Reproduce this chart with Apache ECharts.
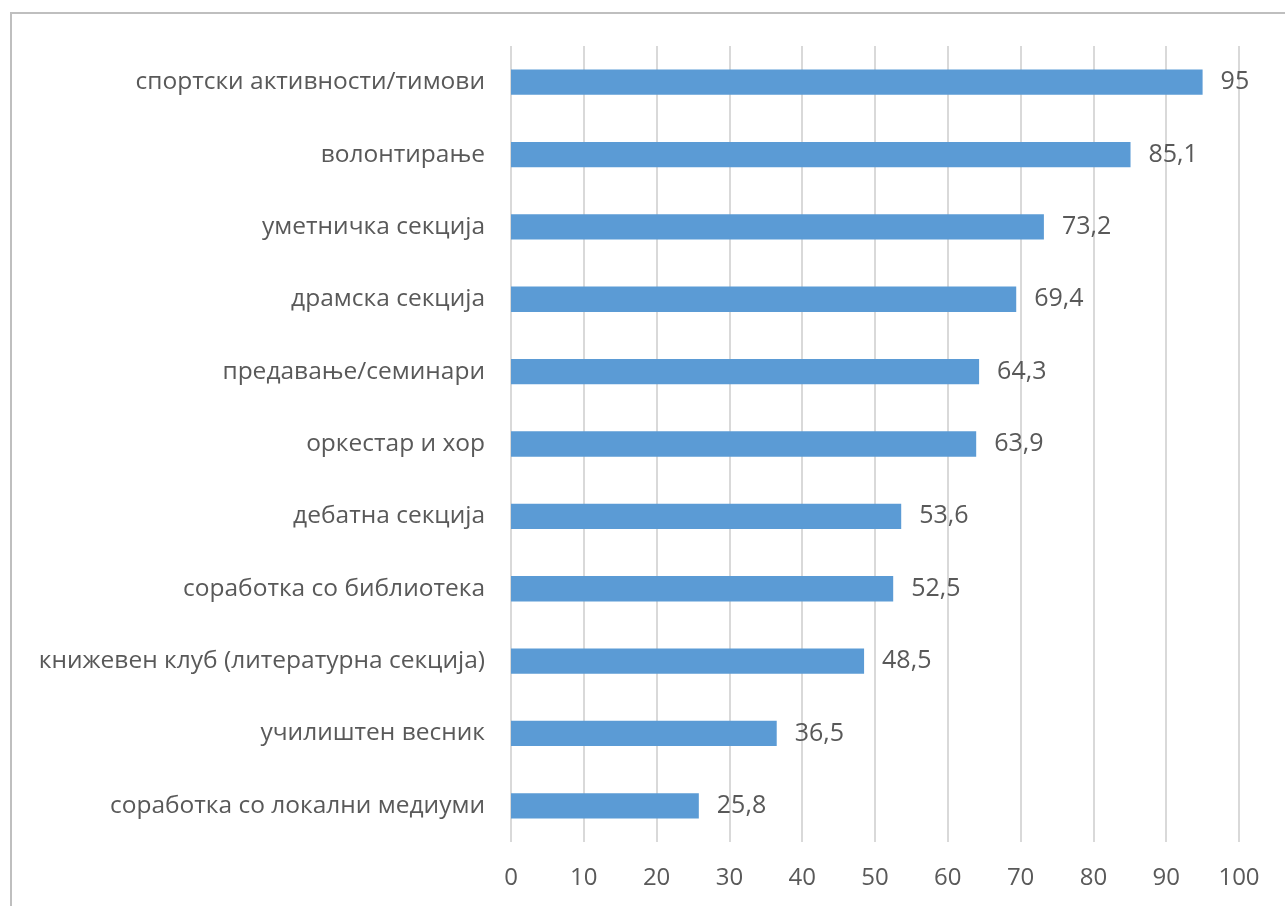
<!DOCTYPE html>
<html>
<head>
<meta charset="utf-8">
<script src="https://cdn.jsdelivr.net/npm/echarts@6/dist/echarts.min.js"></script>
<style>
  html, body { margin: 0; padding: 0; background: #ffffff; }
  #frame { position: absolute; left: 10px; top: 12px; width: 1290px; height: 920px; border: 2px solid #bfbfbf; box-sizing: border-box; }
  #chart { position: absolute; left: 0; top: 0; width: 1285px; height: 906px; }
</style>
</head>
<body>
<div id="frame"></div>
<div id="chart"></div>
<script>
// Activity categories, listed bottom to top as drawn on the category axis
const categories = [
  'соработка со локални медиуми',
  'училиштен весник',
  'книжевен клуб (литературна секција)',
  'соработка со библиотека',
  'дебатна секција',
  'оркестар и хор',
  'предавање/семинари',
  'драмска секција',
  'уметничка секција',
  'волонтирање',
  'спортски активности/тимови'
];
const values = [25.8, 36.5, 48.5, 52.5, 53.6, 63.9, 64.3, 69.4, 73.2, 85.1, 95];
const xTicks = [0, 10, 20, 30, 40, 50, 60, 70, 80, 90, 100];

const chart = echarts.init(document.getElementById('chart'), null, { renderer: 'canvas' });
const fontFamily = '"Open Sans", "Noto Sans", sans-serif';

chart.setOption({
  animation: false,
  grid: { left: 511, right: 46, top: 46, bottom: 64, containLabel: false },
  xAxis: {
    type: 'value',
    min: xTicks[0],
    max: xTicks[xTicks.length - 1],
    interval: 10,
    axisLine: { show: false },
    axisTick: { show: false },
    splitLine: { show: true, lineStyle: { color: '#d9d9d9', width: 2 } },
    axisLabel: { color: '#595959', fontSize: 24, fontFamily: fontFamily, margin: 24 }
  },
  yAxis: {
    type: 'category',
    data: categories,
    axisLine: { show: false },
    axisTick: { show: false },
    splitLine: { show: false },
    axisLabel: { color: '#595959', fontSize: 24.5, fontFamily: fontFamily, margin: 26 }
  },
  series: [{
    type: 'bar',
    data: values,
    barWidth: '35%',
    itemStyle: { color: '#5b9bd5' },
    label: {
      show: true,
      position: 'right',
      distance: 18,
      color: '#595959',
      fontSize: 25,
      fontFamily: fontFamily,
      formatter: p => String(p.value).replace('.', ',')
    }
  }]
});
</script>
</body>
</html>
